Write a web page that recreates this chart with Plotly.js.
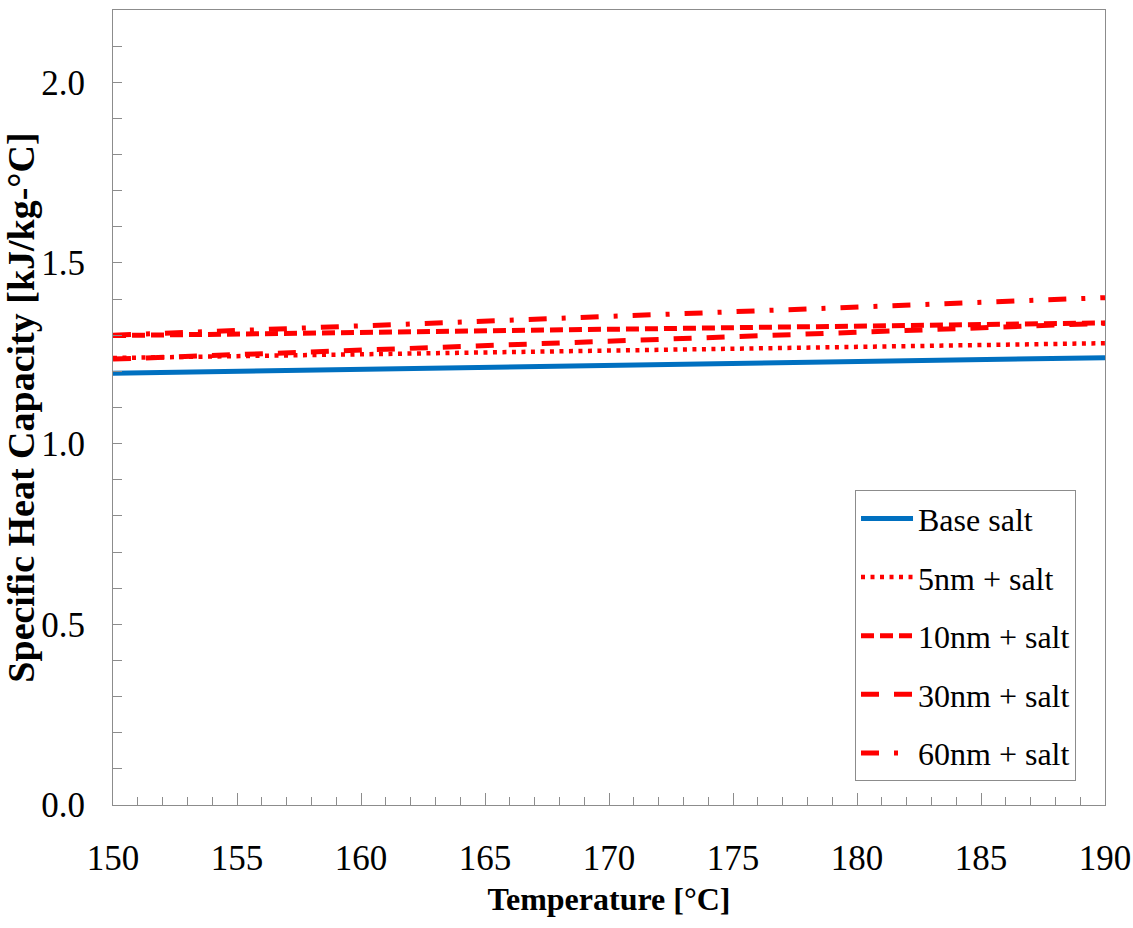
<!DOCTYPE html>
<html>
<head>
<meta charset="utf-8">
<script src="https://cdn.plot.ly/plotly-3.0.1.min.js"></script>
<style>html,body{margin:0;padding:0;background:#fff;}#chart{width:1133px;height:928px;}</style>
</head>
<body>
<div id="chart"></div>
<script>
// Temperature [°C]
const temps = [150, 170, 190];
// Specific heat capacity [kJ/kg-°C]
const baseSalt = [1.195, 1.217, 1.238];
const nm5Salt  = [1.237, 1.257, 1.278];
const nm10Salt = [1.299, 1.316, 1.334];
const nm30Salt = [1.234, 1.284, 1.333];
const nm60Salt = [1.300, 1.352, 1.404];
const seriesNames = ["Base salt", "5nm + salt", "10nm + salt", "30nm + salt", "60nm + salt"];

const RED = "#FF0000";
const BLUE = "#0070C0";
const AX = "#8c8c8c";
const FONT = "Liberation Serif, Times New Roman, serif";

const traces = [
  {x: temps, y: baseSalt, name: seriesNames[0], legendgroup: "a", line: {color: BLUE, width: 5}},
  {x: temps, y: nm5Salt,  name: seriesNames[1], legendgroup: "b", line: {color: RED, width: 4.5, dash: "4px,5.5px"}},
  {x: temps, y: nm10Salt, name: seriesNames[2], legendgroup: "c", line: {color: RED, width: 5, dash: "13px,6px"}},
  {x: temps, y: nm30Salt, name: seriesNames[3], legendgroup: "d", line: {color: RED, width: 5, dash: "18px,15px"}},
  {x: temps, y: nm60Salt, name: seriesNames[4], legendgroup: "e", line: {color: RED, width: 5, dash: "18px,15px,4px,15px"}}
].map(t => Object.assign({type: "scatter", mode: "lines", hoverinfo: "skip"}, t));

const layout = {
  width: 1133, height: 928,
  margin: {l: 113, r: 28, t: 10, b: 123},
  paper_bgcolor: "#fff", plot_bgcolor: "#fff",
  font: {family: FONT, color: "#000"},
  showlegend: true,
  legend: {
    x: 0.748, y: 0.396, xanchor: "left", yanchor: "top",
    bordercolor: AX, borderwidth: 1, bgcolor: "#fff",
    font: {family: FONT, size: 32, color: "#000"},
    traceorder: "grouped", tracegroupgap: 14,
    itemwidth: 52
  },
  xaxis: {
    range: [150, 190], dtick: 5, tick0: 150,
    showgrid: false, zeroline: false,
    showline: true, linecolor: AX, linewidth: 1, mirror: true,
    ticks: "inside", ticklen: 12, tickcolor: AX, tickwidth: 1,
    minor: {dtick: 1, ticks: "inside", ticklen: 8, tickcolor: AX, tickwidth: 1, showgrid: false},
    tickfont: {family: FONT, size: 35, color: "#000"},
    ticklabelstandoff: 22,
    title: {text: "<b>Temperature [°C]</b>", font: {family: FONT, size: 32, color: "#000"}, standoff: 10}
  },
  yaxis: {
    range: [0, 2.2], dtick: 0.5, tick0: 0, tickformat: ".1f",
    showgrid: false, zeroline: false,
    showline: true, linecolor: AX, linewidth: 1, mirror: true,
    ticks: "inside", ticklen: 9, tickcolor: AX, tickwidth: 1,
    minor: {dtick: 0.1, ticks: "inside", ticklen: 9, tickcolor: AX, tickwidth: 1, showgrid: false},
    tickfont: {family: FONT, size: 35, color: "#000"},
    ticklabelstandoff: 20,
    title: {text: "<b>Specific Heat Capacity [kJ/kg-°C]</b>", font: {family: FONT, size: 38, color: "#000"}, standoff: 10}
  }
};

Plotly.newPlot("chart", traces, layout, {staticPlot: true, displayModeBar: false});
</script>
</body>
</html>
